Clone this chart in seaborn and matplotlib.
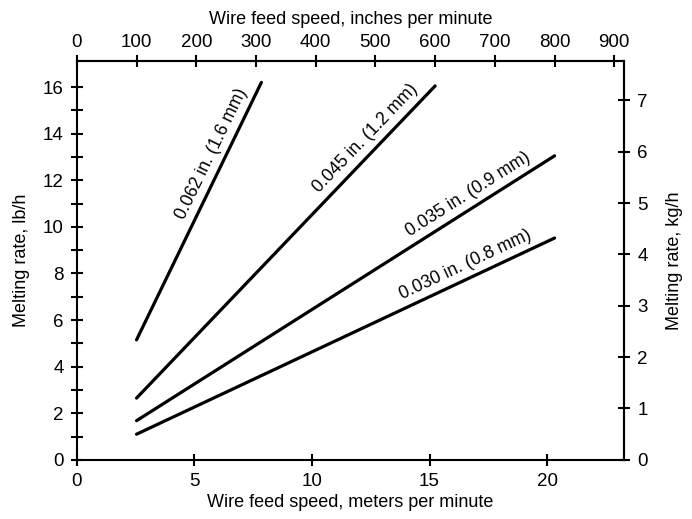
import numpy as np
import pandas as pd
import matplotlib.pyplot as plt
import seaborn as sns

# Curves: wire feed speed (m/min) and melting rate (lb/h) at each end
wire_labels = ["0.062 in. (1.6 mm)", "0.045 in. (1.2 mm)", "0.035 in. (0.9 mm)", "0.030 in. (0.8 mm)"]
speed_start = [2.54, 2.54, 2.54, 2.54]
speed_end = [7.85, 15.24, 20.32, 20.32]
rate_start = [5.15, 2.65, 1.68, 1.1]
rate_end = [16.2, 16.05, 13.05, 9.52]

m_ticks = [0, 5, 10, 15, 20]
in_ticks = list(range(0, 1000, 100))
lb_ticks = list(range(0, 17, 2))
lb_minor = list(range(1, 17, 2))
kg_ticks = list(range(0, 8))

rows = []
for lab, x0, x1, y0, y1 in zip(wire_labels, speed_start, speed_end, rate_start, rate_end):
    rows.append({"wire": lab, "speed": x0, "rate": y0})
    rows.append({"wire": lab, "speed": x1, "rate": y1})
df = pd.DataFrame(rows)

sns.set_style("ticks")
plt.rcParams["font.family"] = ["Liberation Sans", "DejaVu Sans"]
plt.rcParams["text.color"] = "black"
plt.rcParams["axes.labelcolor"] = "black"

fig, ax = plt.subplots(figsize=(6.92, 5.19), dpi=100)
fig.subplots_adjust(left=0.111, right=0.902, bottom=0.114, top=0.8825)

sns.lineplot(data=df, x="speed", y="rate", units="wire", estimator=None,
             color="black", linewidth=2.3, ax=ax)

ax.set_xlim(0, 23.28)
ax.set_ylim(0, 17.12)
ax.set_xticks(m_ticks)
ax.set_yticks(lb_ticks)
ax.set_yticks(lb_minor, minor=True)

tick_kw = dict(direction="inout", length=9, width=1.5, colors="black", labelsize=13.5)
ax.tick_params(axis="x", which="both", pad=5, **tick_kw)
ax.tick_params(axis="y", which="both", pad=5, **tick_kw)
for sp in ax.spines.values():
    sp.set_visible(True)
    sp.set_linewidth(1.5)
    sp.set_color("black")

ax.set_xlabel("Wire feed speed, meters per minute", fontsize=13, labelpad=3)
ax.set_ylabel("Melting rate, lb/h", fontsize=13, labelpad=9)

top = ax.secondary_xaxis("top", functions=(lambda x: x / 0.0254, lambda x: x * 0.0254))
top.set_xticks(in_ticks)
top.tick_params(pad=3, **tick_kw)
top.set_xlabel("Wire feed speed, inches per minute", fontsize=13, labelpad=7)
top.spines["top"].set_linewidth(1.5)

right = ax.secondary_yaxis("right", functions=(lambda y: y / 2.2046, lambda y: y * 2.2046))
right.set_yticks(kg_ticks)
right.tick_params(pad=5, **tick_kw)
right.set_ylabel("Melting rate, kg/h", fontsize=13, labelpad=13)
right.spines["right"].set_linewidth(1.5)

# labels along each line, offset to the upper-left side
label_pos = [0.70, 0.80, 0.81, 0.80]
for lab, x0, x1, y0, y1, t in zip(wire_labels, speed_start, speed_end, rate_start, rate_end, label_pos):
    p0 = ax.transData.transform((x0, y0))
    p1 = ax.transData.transform((x1, y1))
    ang = np.degrees(np.arctan2(p1[1] - p0[1], p1[0] - p0[0]))
    nx, ny = -np.sin(np.radians(ang)), np.cos(np.radians(ang))
    xm, ym = x0 + t * (x1 - x0), y0 + t * (y1 - y0)
    ax.annotate(lab, (xm, ym), xytext=(10 * nx, 10 * ny), textcoords="offset points",
                rotation=ang, rotation_mode="anchor", ha="center", va="center",
                fontsize=12.7, color="black")

fig.savefig("out.png", dpi=100)
